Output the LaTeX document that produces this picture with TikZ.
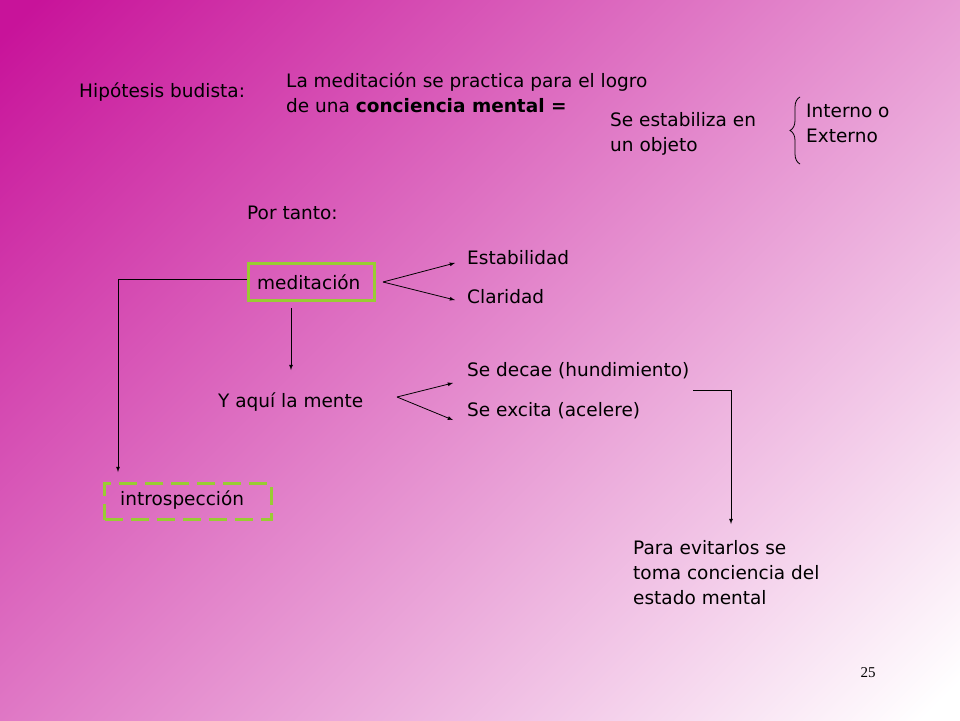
\documentclass[tikz,border=0pt]{standalone}
\usepackage{fontspec}
\setmainfont{DejaVu Sans}
\newfontfamily\numfont{Liberation Serif}
\usetikzlibrary{decorations.pathreplacing}
\definecolor{mag}{HTML}{C8139A}
\definecolor{midp}{HTML}{E2A0CB}
\definecolor{grn}{HTML}{99CC33}
\begin{document}
\begin{tikzpicture}[x=1pt,y=-1pt,
  txt/.style={anchor=west,inner sep=0pt,font=\fontsize{18.5}{25}\selectfont,align=left},
  arr/.style={-latex,line width=0.8pt},
  ln/.style={line width=0.8pt}]
\useasboundingbox (0,0) rectangle (960,720);
\begin{scope}
\clip (0,0) rectangle (960,720);
\shade[shading=axis,top color=mag,middle color=midp,bottom color=white,shading angle=45] (-150,-150) rectangle (1110,870);
\end{scope}
\node[txt] (hip) at (79,92) {Hipótesis budista:};
\node[txt,anchor=north west] (la) at (286,73) {La meditación se practica para el logro\\de una \textbf{conciencia mental =}};
\node[txt,anchor=north west] (se) at (610,112) {Se estabiliza en\\un objeto};
\node[txt,anchor=north west] (int) at (806,104) {Interno o\\Externo};
\draw[ln,decorate,decoration={brace,amplitude=10pt,mirror}] (800,97) -- (800,164);
\node[txt] (por) at (247,213) {Por tanto:};
\node[draw=grn,line width=3pt,minimum width=126pt,minimum height=37pt,anchor=north west,inner sep=0pt] (med) at (247,262) {};
\node[txt] at (257,282) {meditación};
\coordinate (m1) at (383,282);
\node[txt] (est) at (467,258) {Estabilidad};
\node[txt] (cla) at (467,297) {Claridad};
\draw[arr] (m1) -- (455,263);
\draw[arr] (m1) -- (455,300);
\coordinate (d0) at (291,308);
\node[txt] (yaq) at (218,402) {Y aquí la mente};
\draw[arr] (d0) -- (291,370);
\coordinate (y1) at (397,397);
\node[txt] (dec) at (467,371) {Se decae (hundimiento)};
\node[txt] (exc) at (467,411) {Se excita (acelere)};
\draw[arr] (y1) -- (453,383);
\draw[arr] (y1) -- (453,420);
\node[txt,anchor=north west] (par) at (633,540) {Para evitarlos se\\toma conciencia del\\estado mental};
\draw[arr] (693,390) -- (731,390) -- (731,524);
\node[draw=grn,line width=3pt,dash pattern=on 18pt off 8pt,minimum width=167pt,minimum height=36pt,anchor=north west,inner sep=0pt] (intro) at (103,482) {};
\node[txt] at (120,500) {introspección};
\draw[arr] (med.west|-0,279) -- (118,279) -- (118,472);
\node[anchor=center,inner sep=0pt,font=\numfont\fontsize{15}{18}\selectfont] (pg) at (868,673) {25};
\end{tikzpicture}
\end{document}
